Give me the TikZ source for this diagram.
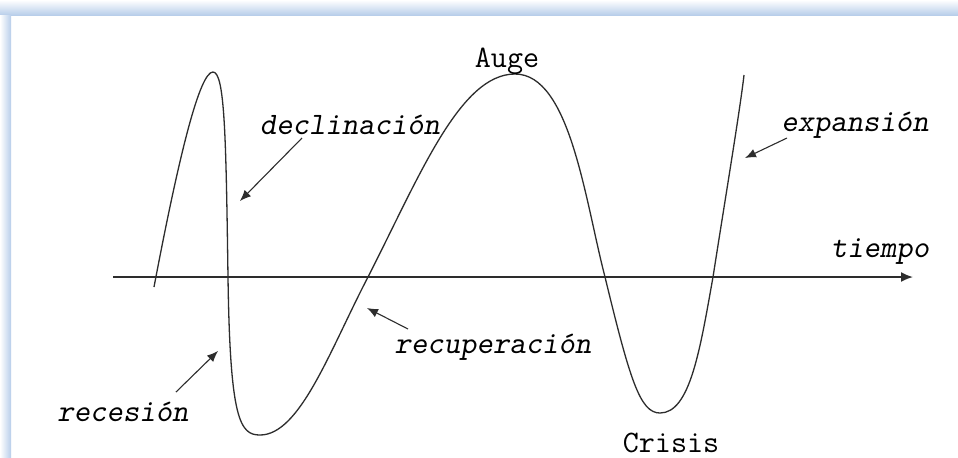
\documentclass[tikz,border=0pt]{standalone}
\usepackage{fontspec}
\usetikzlibrary{arrows.meta}
\definecolor{frameblue}{RGB}{184,206,234}
\definecolor{inkgray}{RGB}{45,45,45}

\begin{document}
\begin{tikzpicture}[
    x=0.5pt, y=-0.5pt,
    >={Latex[length=5.5pt,width=4.5pt]},
    font=\ttfamily\fontsize{15.6}{17}\selectfont,
    phase/.style={font=\ttfamily\fontsize{15.6}{17}\selectfont\slshape, inner sep=0pt},
    stage/.style={inner sep=0pt},
    pointer/.style={->, line width=0.55pt, inkgray},
    cycle/.style={line width=0.65pt, inkgray}
]
    \useasboundingbox (0,0) rectangle (958,457);
    \fill[white] (0,0) rectangle (958,457);
    \shade[top color=white, bottom color=frameblue] (0,0) rectangle (958,15);
    \shade[left color=white, right color=frameblue] (0,15) rectangle (11,457);

    % eje del tiempo
    \coordinate (t0) at (113,277);
    \coordinate (t1) at (913,277);
    \draw[line width=0.9pt, inkgray, -{Latex[length=6pt,width=5pt]}] (t0) -- (t1);

    % ciclo
    \draw[cycle] (154,287) .. controls (180,150) and (200,72) .. (213,72)
        .. controls (225,72) and (226,140) .. (228,277)
        .. controls (230,420) and (240,435) .. (260,435)
        .. controls (300,435) and (330,350) .. (368,277)
        .. controls (420,175) and (460,74) .. (515,74)
        .. controls (570,74) and (585,200) .. (605,277)
        .. controls (630,380) and (640,413) .. (660,413)
        .. controls (690,413) and (700,350) .. (713,277)
        .. controls (725,200) and (740,110) .. (744,75);

    \node[stage] (auge) at (507,61) {Auge};
    \node[stage] (crisis) at (671,443) {Crisis};
    \node[phase] (tiempo) at (880,252) {tiempo};
    \node[phase] (decl) at (350,125) {declinación};
    \node[phase] (expa) at (855,125) {expansión};
    \node[phase] (recu) at (493,347) {recuperación};
    \node[phase] (rece) at (123,412) {recesión};

    \coordinate (declA) at (302,138);
    \coordinate (declB) at (240,201);
    \coordinate (expaA) at (787,138);
    \coordinate (expaB) at (745,158);
    \coordinate (recuA) at (408,329);
    \coordinate (recuB) at (367,308);
    \coordinate (receA) at (176,392);
    \coordinate (receB) at (218,351);
    \draw[pointer] (declA) -- (declB);
    \draw[pointer] (expaA) -- (expaB);
    \draw[pointer] (recuA) -- (recuB);
    \draw[pointer] (receA) -- (receB);
\end{tikzpicture}
\end{document}
